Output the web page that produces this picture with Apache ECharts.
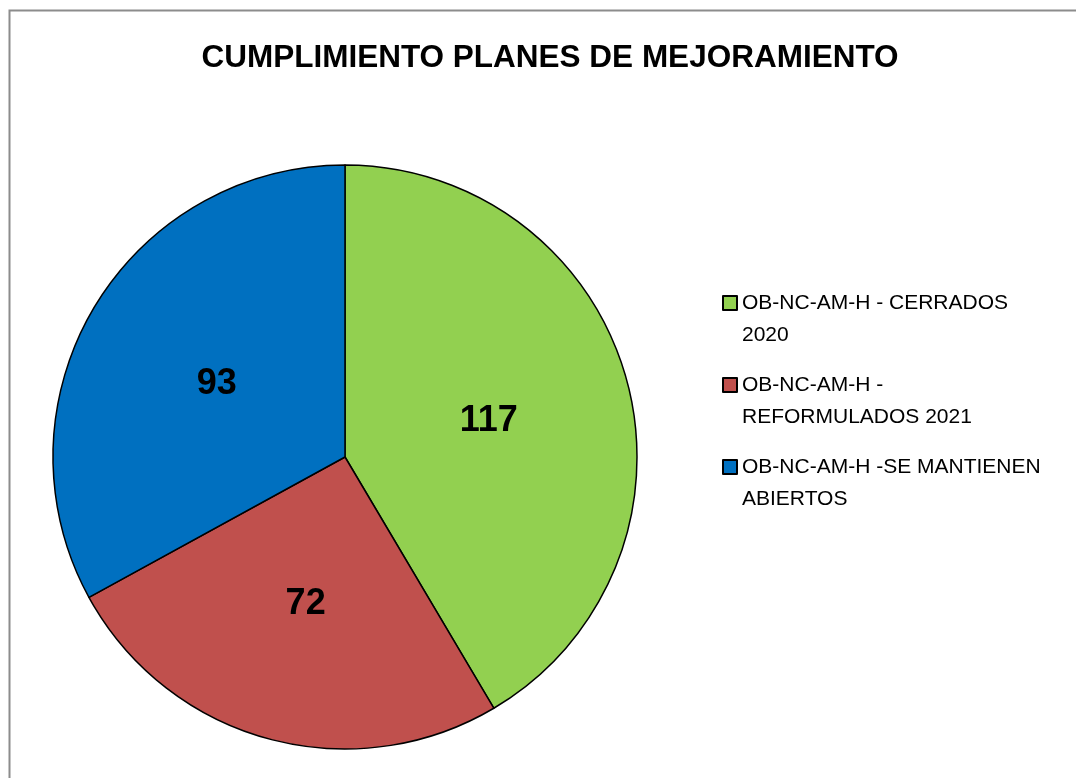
<!DOCTYPE html>
<html>
<head>
<meta charset="utf-8">
<script src="https://cdn.jsdelivr.net/npm/echarts@6/dist/echarts.min.js"></script>
<style>
  html, body { margin: 0; padding: 0; background: #fff; }
  #chart { width: 1076px; height: 778px; }
</style>
</head>
<body>
<div id="chart"></div>
<script>
var categories = ['OB-NC-AM-H - CERRADOS 2020', 'OB-NC-AM-H - REFORMULADOS 2021', 'OB-NC-AM-H -SE MANTIENEN ABIERTOS'];
var legendText = ['OB-NC-AM-H - CERRADOS\n2020', 'OB-NC-AM-H -\nREFORMULADOS 2021', 'OB-NC-AM-H -SE MANTIENEN\nABIERTOS'];
var values = [117, 72, 93];
var colors = ['#92d050', '#c0504d', '#0070c0'];

var myChart = echarts.init(document.getElementById('chart'));

var pieData = [];
for (var i = 0; i < categories.length; i++) {
  pieData.push({ name: categories[i], value: values[i], itemStyle: { color: colors[i] } });
}

// square sits on the first line of the two-line legend text
var legendIcon = 'path://M0,0M14,64M0,9h14v14h-14z';

myChart.setOption({
  animation: false,
  backgroundColor: '#fff',
  graphic: [{
    type: 'rect',
    shape: { x: 9.5, y: 10.5, width: 1200, height: 900 },
    style: { fill: 'none', stroke: '#8c8c8c', lineWidth: 2 },
    silent: true
  }],
  title: {
    text: 'CUMPLIMIENTO PLANES DE MEJORAMIENTO',
    left: 545,
    textAlign: 'center',
    top: 37,
    textStyle: { fontFamily: 'Liberation Sans', fontWeight: 'bold', fontSize: 31.5, color: '#000' }
  },
  legend: {
    orient: 'vertical',
    left: 717,
    top: 281,
    icon: legendIcon,
    itemWidth: 14,
    itemHeight: 64,
    itemGap: 16,
    data: categories,
    formatter: function (name) { return legendText[categories.indexOf(name)]; },
    textStyle: { fontFamily: 'Liberation Sans', fontSize: 21, color: '#000', lineHeight: 32 }
  },
  series: [{
    type: 'pie',
    center: [345, 457],
    radius: 292,
    startAngle: 90,
    clockwise: true,
    data: pieData,
    itemStyle: { borderColor: '#000', borderWidth: 1.5 },
    label: {
      show: true,
      position: 'inside',
      formatter: '{c}',
      fontFamily: 'Liberation Sans',
      fontWeight: 'bold',
      fontSize: 36,
      color: '#000',
      offset: [0, 3]
    },
    labelLine: { show: false },
    emphasis: { disabled: true }
  }]
});
</script>
</body>
</html>
